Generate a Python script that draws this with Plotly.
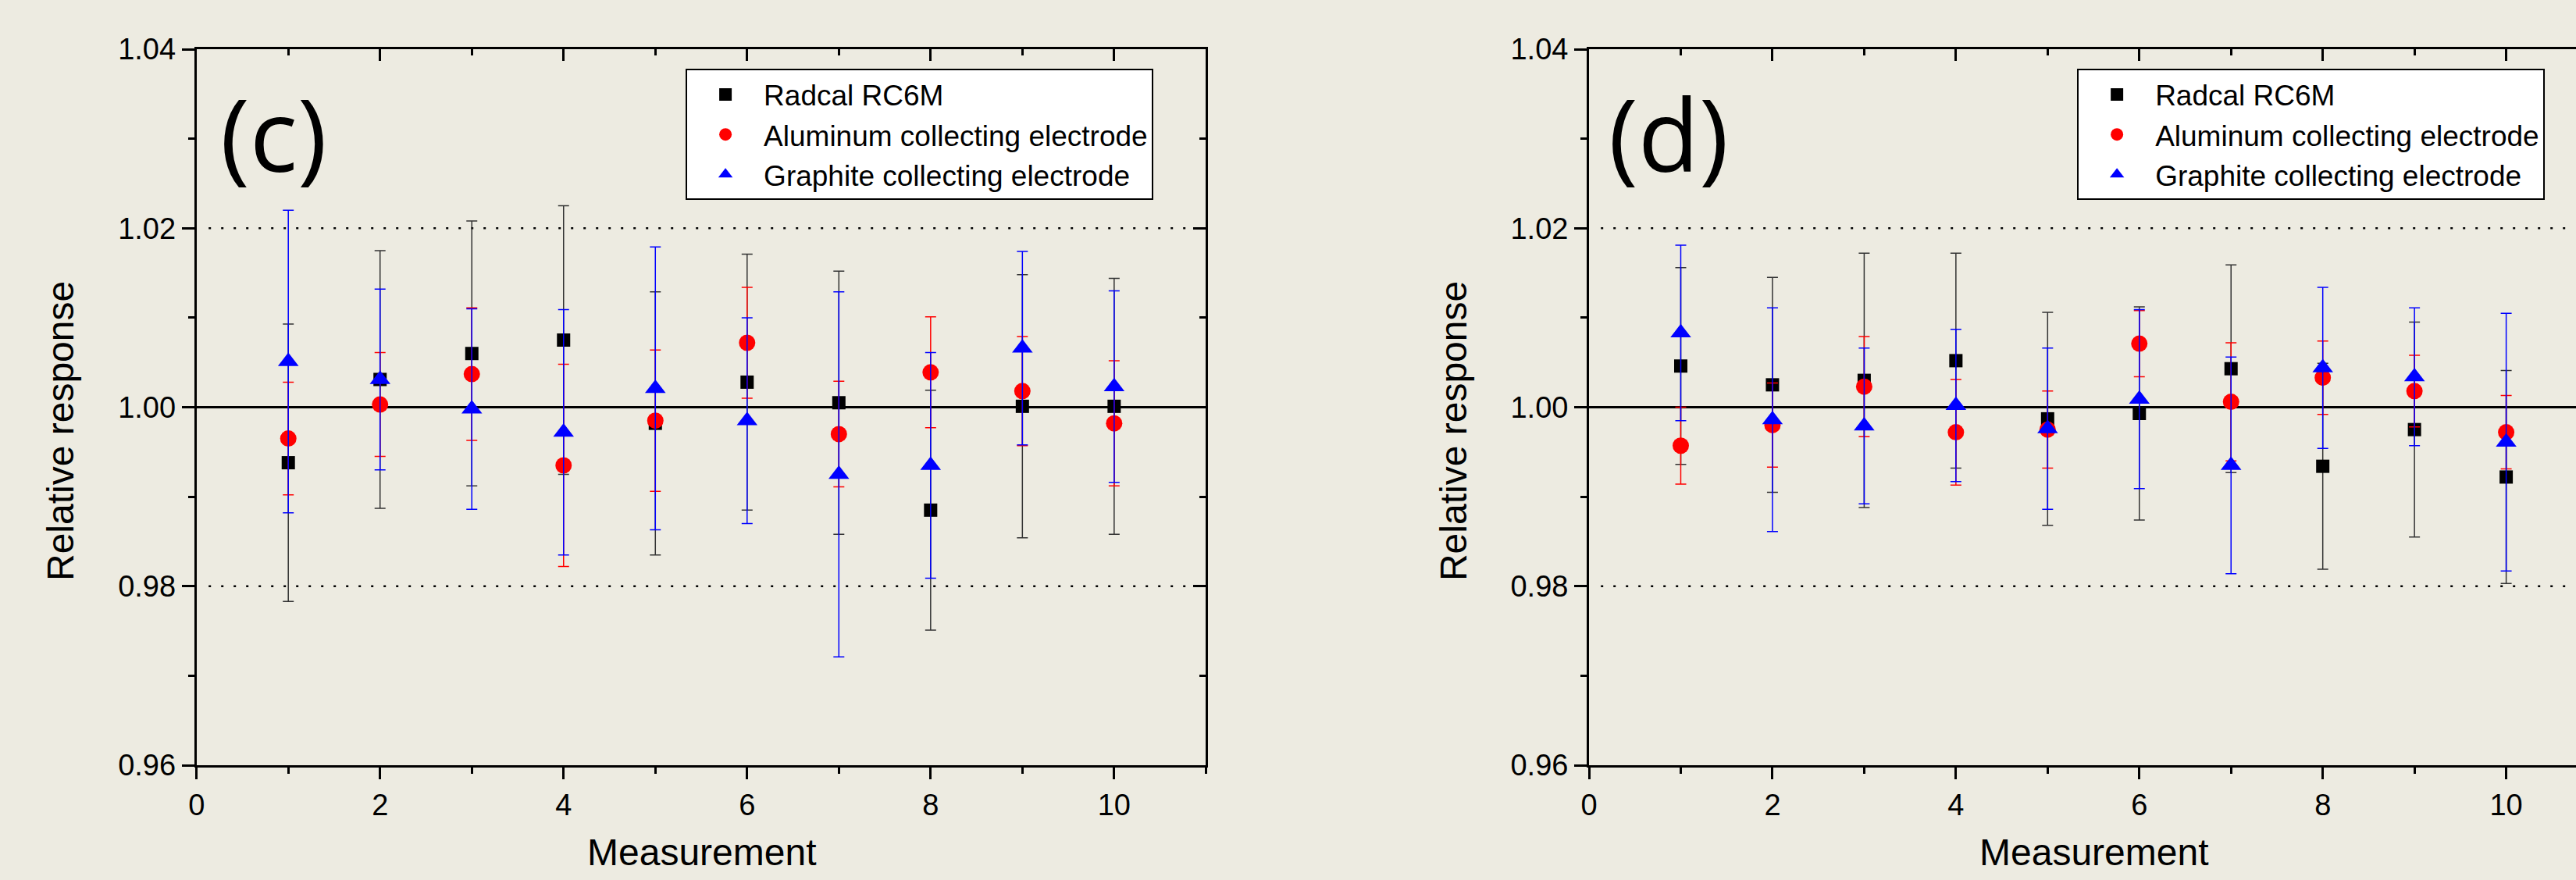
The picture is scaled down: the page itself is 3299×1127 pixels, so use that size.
import plotly.graph_objects as go

measurements = [1, 2, 3, 4, 5, 6, 7, 8, 9, 10]
series_names = ["Radcal RC6M", "Aluminum collecting electrode", "Graphite collecting electrode"]

# Panel (c)
c_radcal = [0.9938, 1.0031, 1.0060, 1.0075, 0.9982, 1.0028, 1.0005, 0.9885, 1.0001, 1.0001]
c_radcal_err = [0.0155, 0.0144, 0.0148, 0.0150, 0.0147, 0.0143, 0.0147, 0.0134, 0.0147, 0.0143]
c_alum = [0.9965, 1.0003, 1.0037, 0.9935, 0.9985, 1.0072, 0.9970, 1.0039, 1.0018, 0.9982]
c_alum_err = [0.0063, 0.0058, 0.0074, 0.0113, 0.0079, 0.0062, 0.0059, 0.0062, 0.0061, 0.0070]
c_graph = [1.0051, 1.0031, 0.9998, 0.9972, 1.0021, 0.9985, 0.9925, 0.9935, 1.0066, 1.0023]
c_graph_err = [0.0169, 0.0101, 0.0112, 0.0137, 0.0158, 0.0115, 0.0204, 0.0126, 0.0108, 0.0107]

# Panel (d)
d_radcal = [1.0046, 1.0025, 1.0030, 1.0052, 0.9987, 0.9993, 1.0043, 0.9934, 0.9975, 0.9922]
d_radcal_err = [0.0110, 0.0120, 0.0142, 0.0120, 0.0119, 0.0119, 0.0116, 0.0115, 0.0120, 0.0119]
d_alum = [0.9957, 0.9980, 1.0023, 0.9972, 0.9975, 1.0071, 1.0006, 1.0033, 1.0018, 0.9972]
d_alum_err = [0.0043, 0.0047, 0.0056, 0.0059, 0.0043, 0.0037, 0.0066, 0.0041, 0.0040, 0.0041]
d_graph = [1.0083, 0.9986, 0.9979, 1.0002, 0.9976, 1.0009, 0.9935, 1.0044, 1.0034, 0.9961]
d_graph_err = [0.0098, 0.0125, 0.0087, 0.0085, 0.0090, 0.0100, 0.0121, 0.0090, 0.0077, 0.0144]

ref_dotted = [0.98, 1.02]
ref_solid = [1.00]
panel_labels = ["(c)", "(d)"]
x_title = "Measurement"
y_title = "Relative response"

BG = "#EDEBE1"
FONT = "Liberation Sans, Arial, sans-serif"
styles = [
    dict(symbol="square", size=17, color="#000000", err="#333333"),
    dict(symbol="circle", size=21, color="#FF0000", err="#FF0000"),
    dict(symbol="triangle-up", size=23, color="#0000FF", err="#0000FF"),
]

fig = go.Figure()

panels = [
    ("x", "y", "legend", [c_radcal, c_alum, c_graph], [c_radcal_err, c_alum_err, c_graph_err]),
    ("x2", "y2", "legend2", [d_radcal, d_alum, d_graph], [d_radcal_err, d_alum_err, d_graph_err]),
]
for xa, ya, leg, vals, errs in panels:
    for name, v, e, st in zip(series_names, vals, errs, styles):
        fig.add_trace(go.Scatter(
            x=measurements, y=v, mode="markers", name=name, legend=leg,
            xaxis=xa, yaxis=ya,
            marker=dict(symbol=st["symbol"], size=st["size"], color=st["color"], line=dict(width=0)),
            error_y=dict(type="data", array=e, visible=True, color=st["err"], thickness=1.5, width=7),
        ))

# empty traces to activate the mirror (inward-tick) axes
for xa, ya in [("x3", "y"), ("x", "y3"), ("x4", "y2")]:
    fig.add_trace(go.Scatter(x=[], y=[], xaxis=xa, yaxis=ya, showlegend=False, hoverinfo="skip"))

W, H = 3299, 1127
dom_l = [241.5 / W, 1538.5 / W]
dom_r = [2030.8 / W, 1.0]
xr_l = [0, 11]
xr_r = [0, (W - 2030.8) / 117.85]
yr = [0.96, 1.04]

tickfont = dict(family=FONT, size=38, color="black")

def xax(domain, rng, anchor, **kw):
    d = dict(domain=domain, range=rng, anchor=anchor, tick0=0, dtick=2,
             showline=True, linewidth=3, linecolor="black", showgrid=False, zeroline=False,
             ticks="outside", ticklen=15, tickwidth=3, tickcolor="black", tickfont=tickfont,
             minor=dict(ticks="outside", ticklen=8, tickwidth=3, tickcolor="black", dtick=1, tick0=0, showgrid=False))
    d.update(kw)
    return d

def yax(anchor, **kw):
    d = dict(domain=[0, 1], range=yr, anchor=anchor, tick0=0.96, dtick=0.02, tickformat=".2f",
             showline=True, linewidth=3, linecolor="black", showgrid=False, zeroline=False,
             ticks="outside", ticklen=16, tickwidth=3, tickcolor="black", tickfont=tickfont,
             minor=dict(ticks="outside", ticklen=8, tickwidth=3, tickcolor="black", dtick=0.01, tick0=0.96, showgrid=False))
    d.update(kw)
    return d

inside_x = dict(ticks="inside", showticklabels=False,
                minor=dict(ticks="inside", ticklen=8, tickwidth=3, tickcolor="black", dtick=1, tick0=0, showgrid=False))
inside_y = dict(ticks="inside", showticklabels=False,
                minor=dict(ticks="inside", ticklen=8, tickwidth=3, tickcolor="black", dtick=0.01, tick0=0.96, showgrid=False))

shapes = []
for xref, yref in [("x domain", "y"), ("x2 domain", "y2")]:
    for lv in ref_dotted:
        shapes.append(dict(type="line", xref=xref, yref=yref, x0=0.012, x1=0.99, y0=lv, y1=lv,
                           line=dict(color="black", width=2.5, dash="3px,13px"), layer="below"))
    for lv in ref_solid:
        shapes.append(dict(type="line", xref=xref, yref=yref, x0=0, x1=1, y0=lv, y1=lv,
                           line=dict(color="black", width=3), layer="below"))

mt, mb = 62.5, 147
ph = H - mt - mb

def py(p):
    return (H - mb - p) / ph

annotations = []
for lab, cx, ycx in [(panel_labels[0], 341, 66), (panel_labels[1], 2133, 1856)]:
    annotations.append(dict(text=lab, xref="paper", yref="paper", x=cx / W, y=py(170),
                            xanchor="center", yanchor="middle", showarrow=False,
                            font=dict(family="Open Sans, sans-serif", size=128, color="black")))
    annotations.append(dict(text=y_title, xref="paper", yref="paper", x=ycx / W, y=py(552),
                            xanchor="center", yanchor="middle", textangle=-90, showarrow=False,
                            font=dict(family=FONT, size=48, color="black")))
for xr in ["x", "x2"]:
    annotations.append(dict(text=x_title, xref=xr, yref="paper", x=5.5, y=py(1092),
                            xanchor="center", yanchor="middle", showarrow=False,
                            font=dict(family=FONT, size=48, color="black")))

legend_style = dict(bgcolor="white", bordercolor="black", borderwidth=2,
                    font=dict(family=FONT, size=37, color="black"), itemwidth=88,
                    xanchor="left", yanchor="top", y=py(88), itemclick=False, itemdoubleclick=False)

fig.update_layout(
    width=W, height=H,
    margin=dict(l=0, r=0, t=mt, b=mb, pad=0),
    paper_bgcolor=BG, plot_bgcolor=BG,
    hovermode=False,
    showlegend=True,
    legend=dict(x=870 / W, **legend_style),
    legend2=dict(x=2658 / W, **legend_style),
    xaxis=xax(dom_l, xr_l, "y"),
    yaxis=yax("x"),
    xaxis3=xax(dom_l, xr_l, "y", overlaying="x", side="top", **inside_x),
    yaxis3=yax("x", overlaying="y", side="right", **inside_y),
    xaxis2=xax(dom_r, xr_r, "y2"),
    yaxis2=yax("x2"),
    xaxis4=xax(dom_r, xr_r, "y2", overlaying="x2", side="top", **inside_x),
    shapes=shapes,
    annotations=annotations,
)

fig.write_html(
    "out.html",
    config={"displayModeBar": False, "staticPlot": True},
    post_script="document.body.style.margin='0px'; document.body.style.overflow='hidden'; document.body.style.background='" + BG + "';",
)
